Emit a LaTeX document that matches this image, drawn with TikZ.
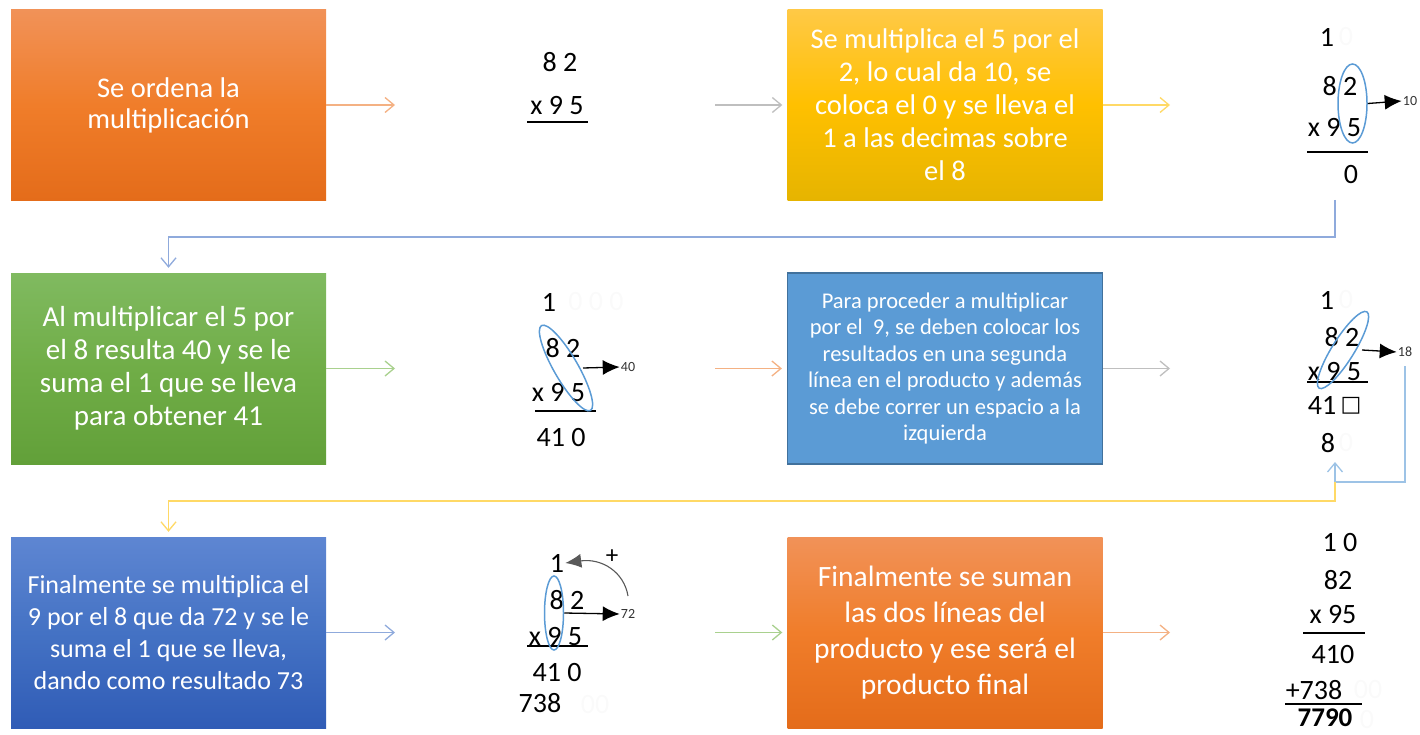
\documentclass[tikz,border=0pt]{standalone}
\usepackage{fontspec}
\setmainfont{Carlito}
\newfontfamily\simbolos{DejaVu Sans}
\usetikzlibrary{arrows.meta,shapes.geometric,positioning}

\definecolor{naranjaSup}{RGB}{241,146,88}
\definecolor{naranjaMed}{RGB}{240,125,42}
\definecolor{naranjaInf}{RGB}{228,108,26}
\definecolor{amarilloSup}{RGB}{255,201,70}
\definecolor{amarilloMed}{RGB}{255,192,0}
\definecolor{amarilloInf}{RGB}{230,180,0}
\definecolor{verdeSup}{RGB}{128,186,96}
\definecolor{verdeMed}{RGB}{112,173,71}
\definecolor{verdeInf}{RGB}{98,160,57}
\definecolor{azulSup}{RGB}{94,134,210}
\definecolor{azulMed}{RGB}{68,114,196}
\definecolor{azulInf}{RGB}{48,92,182}
\definecolor{azulCaja}{RGB}{91,155,213}
\definecolor{azulBorde}{RGB}{65,113,156}
\definecolor{naranjaFl}{RGB}{244,177,131}
\definecolor{grisFl}{RGB}{191,191,191}
\definecolor{amarilloFl}{RGB}{255,217,102}
\definecolor{azulFl}{RGB}{143,170,220}
\definecolor{verdeFl}{RGB}{169,209,142}
\definecolor{celesteFl}{RGB}{157,195,230}
\definecolor{ovaloAzul}{RGB}{91,155,213}

\begin{document}
\begin{tikzpicture}[
						x=1pt,
						y=-1pt,
						paso/.style={minimum width=315pt, minimum height=191pt, inner sep=0pt, align=center, text=white},
						naranja/.style={top color=naranjaSup, bottom color=naranjaInf, middle color=naranjaMed},
						amarillo/.style={top color=amarilloSup, bottom color=amarilloInf, middle color=amarilloMed},
						verde/.style={top color=verdeSup, bottom color=verdeInf, middle color=verdeMed},
						azul/.style={top color=azulSup, bottom color=azulInf, middle color=azulMed},
						flecha/.style={line width=1.3pt, -{Straight Barb[length=9pt,width=15pt]}},
						cifra/.style={font=\fontsize{28}{28}\selectfont, inner sep=1pt},
						fantasma/.style={cifra, text=black!2},
						rotulo/.style={font=\fontsize{14}{14}\selectfont, text=black!80, inner sep=1pt},
						raya/.style={line width=2.8pt},
						ovalo/.style={ellipse, draw=ovaloAzul, line width=1.5pt, inner sep=0pt},
						flechita/.style={line width=1.3pt, -{Latex[length=17pt,width=15pt]}},
						curva/.style={line width=1.1pt, black!65, -{Latex[length=16pt,width=14pt]}}
					]
	\useasboundingbox (0,0) rectangle (1420,735);

	\node[paso, naranja, font=\fontsize{28.5}{31}\selectfont] (p1) at (168.5,105) {Se ordena la\\multiplicación};
	\node[paso, amarillo, font=\fontsize{28.5}{33}\selectfont] (p2) at (945,105) {Se multiplica el 5 por el\\2, lo cual da 10, se\\coloca el 0 y se lleva el\\1 a las decimas sobre\\el 8};
	\node[paso, verde, font=\fontsize{29}{33}\selectfont] (p3) at (168.5,368.5) {Al multiplicar el 5 por\\el 8 resulta 40 y se le\\suma el 1 que se lleva\\para obtener 41};
	\node[paso, fill=azulCaja, draw=azulBorde, line width=1.2pt, font=\fontsize{22.5}{26.5}\selectfont] (p4) at (945,368.5) {Para proceder a multiplicar\\por el\ \ 9, se deben colocar los\\resultados en una segunda\\línea en el producto y además\\se debe correr un espacio a la\\izquierda};
	\node[paso, azul, font=\fontsize{26}{32}\selectfont] (p5) at (168.5,632.5) {Finalmente se multiplica el\\9 por el 8 que da 72 y se le\\suma el 1 que se lleva,\\dando como resultado 73};
	\node[paso, naranja, font=\fontsize{29.5}{36}\selectfont] (p6) at (945,632.5) {Finalmente se suman\\las dos líneas del\\producto y ese será el\\producto final};

	\node[cifra] (a82) at (560,62) {8 2};
	\node[cifra] (a95) at (557,106) {x 9 5};
	\draw[raya] (527,122) -- (588,122);

	\node[cifra] (b1) at (1327,37) {1};
	\node[fantasma] (b0) at (1346,37) {0};
	\node[cifra] (b82) at (1340,86) {8 2};
	\node[cifra] (b95) at (1334.5,128) {x 9 5};
	\draw[raya] (1307,152) -- (1368,152);
	\node[cifra] (bres) at (1351,175) {0};
	\node[ovalo, minimum width=29pt, minimum height=79pt] (bov) at (1352.5,103.5) {};
	\node[rotulo] (b10) at (1410,101) {10};
	\draw[flechita] (bov.east) -- (b10.west);

	\node[cifra] (c1) at (549,302) {1};
	\node[fantasma] (c0) at (596,302) {0 0 0};
	\node[cifra] (c82) at (563,348) {8 2};
	\node[cifra] (c95) at (558.5,393) {x 9 5};
	\draw[raya] (535,411) -- (596,411);
	\node[cifra] (cres) at (561,438) {41 0};
	\node[ovalo, minimum width=98pt, minimum height=24pt, rotate=-60] (cov) at (566,368) {};
	\node[rotulo] (c40) at (628,367) {40};
	\draw[flechita] ([xshift=17pt]cov.center) -- (c40.west);

	\node[cifra] (d1) at (1327,300) {1};
	\node[fantasma] (d0) at (1346,300) {0};
	\node[cifra] (d82) at (1342,337) {8 2};
	\node[cifra] (d95) at (1334.5,372) {x 9 5};
	\draw[raya] (1307,382) -- (1368,382);
	\node[cifra] (d41) at (1322,405) {41};
	\node[font=\simbolos\fontsize{22}{22}\selectfont, inner sep=1pt] (dcaja) at (1351,406) {□};
	\node[cifra] (d8) at (1328,443) {8};
	\node[fantasma] (d8b) at (1346,443) {0};
	\node[ovalo, minimum width=90pt, minimum height=22pt, rotate=58] (dov) at (1343,350) {};
	\node[rotulo] (d18) at (1405,352) {18};
	\draw[flechita] ([xshift=19pt]dov.center) -- (d18.west);
	\coordinate (dbajo) at (1335,482);
	\coordinate (dpunta) at (1335,462);
	\draw[flecha, celesteFl, shorten <=8pt] (d18.south) |- (dbajo) -- (dpunta);

	\node[cifra] (e1) at (557,563) {1};
	\node[cifra, font=\fontsize{25}{25}\selectfont] (emas) at (612,557) {+};
	\node[cifra] (e82) at (567,600) {8 2};
	\node[cifra] (e95) at (555.5,637) {x 9 5};
	\draw[raya] (527,646) -- (588,646);
	\node[cifra] (e410) at (557,673) {41 0};
	\node[cifra] (e738) at (540,703) {738};
	\node[fantasma] (e00) at (595,705) {00};
	\node[ovalo, minimum width=19pt, minimum height=74pt] (eov) at (554,613) {};
	\node[rotulo] (e72) at (628,614) {72};
	\draw[flechita] (eov.east) -- (e72.west);
	\coordinate (ecurva) at (628,596);
	\draw[curva] (ecurva) .. controls (624,572) and (602,558) .. (e1.east);

	\node[cifra] (f10) at (1340,543) {1 0};
	\node[cifra] (f82) at (1338,580) {82};
	\node[cifra] (f95) at (1333,615) {x 95};
	\draw[raya] (1303,633) -- (1365,633);
	\node[cifra] (f410) at (1333,655) {410};
	\node[cifra] (f738) at (1314,690) {+738};
	\node[fantasma] (f00) at (1368,690) {00};
	\draw[raya] (1285,704) -- (1362,704);
	\node[cifra, font=\fontsize{27}{27}\selectfont\bfseries] (f7790) at (1325,718) {7790};
	\node[fantasma] (f0) at (1367,720) {0};

	\coordinate (r1a) at (395,105);
	\coordinate (r1b) at (715,105);
	\coordinate (r1c) at (1170,105);
	\coordinate (r2a) at (395,368.5);
	\coordinate (r2b) at (715,368.5);
	\coordinate (r2c) at (1170,368.5);
	\coordinate (r3a) at (395,632.5);
	\coordinate (r3b) at (715,632.5);
	\coordinate (r3c) at (1170,632.5);
	\draw[flecha, naranjaFl] (p1.east) -- (r1a);
	\draw[flecha, grisFl, shorten >=5pt] (r1b) -- (p2.west);
	\draw[flecha, amarilloFl] (p2.east) -- (r1c);
	\draw[flecha, verdeFl] (p3.east) -- (r2a);
	\draw[flecha, naranjaFl, shorten >=5pt] (r2b) -- (p4.west);
	\draw[flecha, grisFl] (p4.east) -- (r2c);
	\draw[flecha, azulFl] (p5.east) -- (r3a);
	\draw[flecha, verdeFl, shorten >=5pt] (r3b) -- (p6.west);
	\draw[flecha, naranjaFl] (p6.east) -- (r3c);

	\coordinate (k1) at (1335,200);
	\draw[flecha, azulFl, shorten >=5pt] (k1) -- ++(0,37) -| (p3.north);
	\draw[flecha, amarilloFl, shorten >=5pt] (dbajo) -- ++(0,19) -| (p5.north);
\end{tikzpicture}
\end{document}
